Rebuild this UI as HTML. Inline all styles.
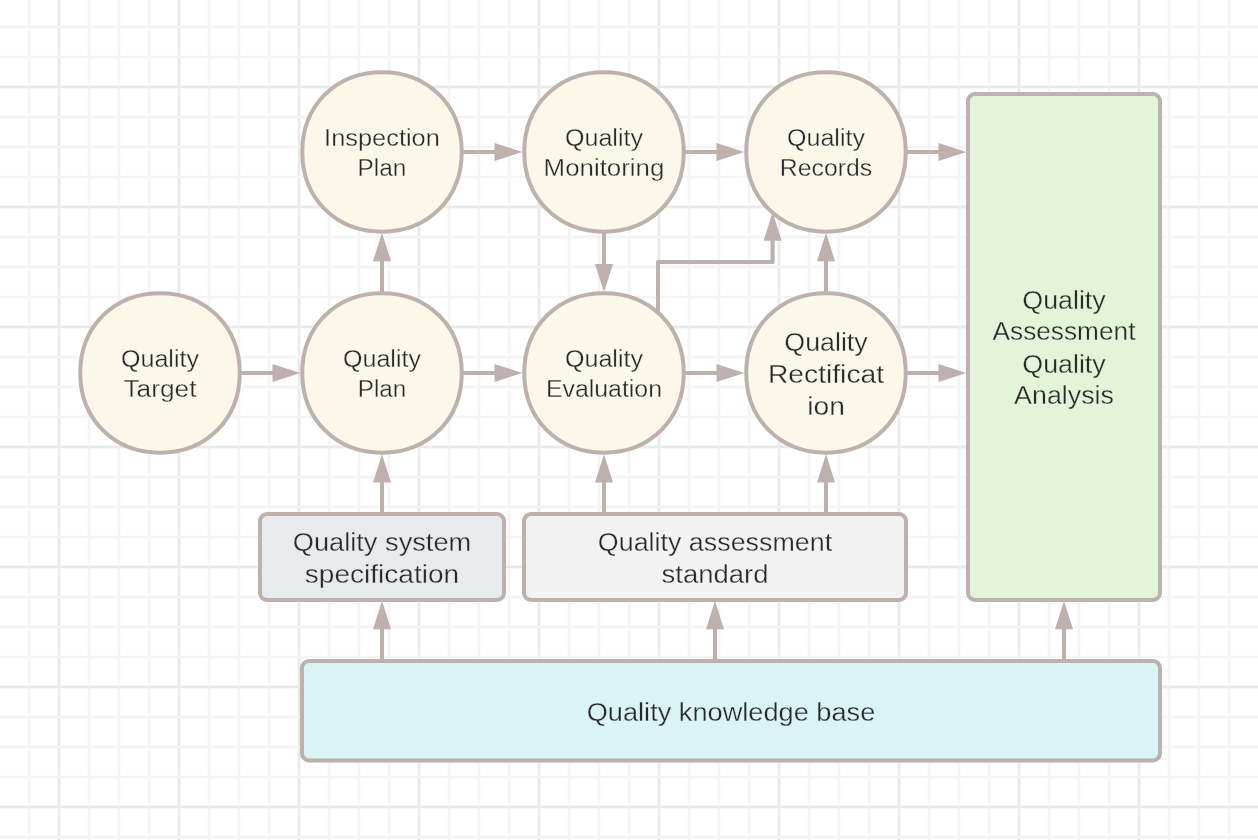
<!DOCTYPE html>
<html><head><meta charset="utf-8"><style>
html,body{margin:0;padding:0;background:#ffffff;width:1258px;height:840px;overflow:hidden}
svg{display:block;will-change:transform}
text{font-family:"Liberation Sans",sans-serif;fill:#282828}
</style></head><body>
<svg width="1258" height="840" viewBox="0 0 1258 840">
<g shape-rendering="crispEdges"><rect x="27" y="0" width="1" height="840" fill="#fcfcfc"/><rect x="30" y="0" width="1" height="840" fill="#fcfcfc"/><rect x="60" y="0" width="1" height="840" fill="#f7f7f7"/><rect x="57" y="0" width="1" height="840" fill="#f8f8f8"/><rect x="87" y="0" width="1" height="840" fill="#fcfcfc"/><rect x="90" y="0" width="1" height="840" fill="#fcfcfc"/><rect x="117" y="0" width="1" height="840" fill="#fcfcfc"/><rect x="120" y="0" width="1" height="840" fill="#fcfcfc"/><rect x="147" y="0" width="1" height="840" fill="#fcfcfc"/><rect x="150" y="0" width="1" height="840" fill="#fcfcfc"/><rect x="180" y="0" width="1" height="840" fill="#f7f7f7"/><rect x="177" y="0" width="1" height="840" fill="#f8f8f8"/><rect x="207" y="0" width="1" height="840" fill="#fcfcfc"/><rect x="210" y="0" width="1" height="840" fill="#fcfcfc"/><rect x="237" y="0" width="1" height="840" fill="#fcfcfc"/><rect x="240" y="0" width="1" height="840" fill="#fcfcfc"/><rect x="267" y="0" width="1" height="840" fill="#fcfcfc"/><rect x="270" y="0" width="1" height="840" fill="#fcfcfc"/><rect x="300" y="0" width="1" height="840" fill="#f7f7f7"/><rect x="297" y="0" width="1" height="840" fill="#f8f8f8"/><rect x="327" y="0" width="1" height="840" fill="#fcfcfc"/><rect x="330" y="0" width="1" height="840" fill="#fcfcfc"/><rect x="357" y="0" width="1" height="840" fill="#fcfcfc"/><rect x="360" y="0" width="1" height="840" fill="#fcfcfc"/><rect x="387" y="0" width="1" height="840" fill="#fcfcfc"/><rect x="390" y="0" width="1" height="840" fill="#fcfcfc"/><rect x="420" y="0" width="1" height="840" fill="#f7f7f7"/><rect x="417" y="0" width="1" height="840" fill="#f8f8f8"/><rect x="447" y="0" width="1" height="840" fill="#fcfcfc"/><rect x="450" y="0" width="1" height="840" fill="#fcfcfc"/><rect x="477" y="0" width="1" height="840" fill="#fcfcfc"/><rect x="480" y="0" width="1" height="840" fill="#fcfcfc"/><rect x="507" y="0" width="1" height="840" fill="#fcfcfc"/><rect x="510" y="0" width="1" height="840" fill="#fcfcfc"/><rect x="540" y="0" width="1" height="840" fill="#f7f7f7"/><rect x="537" y="0" width="1" height="840" fill="#f8f8f8"/><rect x="567" y="0" width="1" height="840" fill="#fcfcfc"/><rect x="570" y="0" width="1" height="840" fill="#fcfcfc"/><rect x="597" y="0" width="1" height="840" fill="#fcfcfc"/><rect x="600" y="0" width="1" height="840" fill="#fcfcfc"/><rect x="627" y="0" width="1" height="840" fill="#fcfcfc"/><rect x="630" y="0" width="1" height="840" fill="#fcfcfc"/><rect x="660" y="0" width="1" height="840" fill="#f7f7f7"/><rect x="657" y="0" width="1" height="840" fill="#f8f8f8"/><rect x="687" y="0" width="1" height="840" fill="#fcfcfc"/><rect x="690" y="0" width="1" height="840" fill="#fcfcfc"/><rect x="717" y="0" width="1" height="840" fill="#fcfcfc"/><rect x="720" y="0" width="1" height="840" fill="#fcfcfc"/><rect x="747" y="0" width="1" height="840" fill="#fcfcfc"/><rect x="750" y="0" width="1" height="840" fill="#fcfcfc"/><rect x="780" y="0" width="1" height="840" fill="#f7f7f7"/><rect x="777" y="0" width="1" height="840" fill="#f8f8f8"/><rect x="807" y="0" width="1" height="840" fill="#fcfcfc"/><rect x="810" y="0" width="1" height="840" fill="#fcfcfc"/><rect x="837" y="0" width="1" height="840" fill="#fcfcfc"/><rect x="840" y="0" width="1" height="840" fill="#fcfcfc"/><rect x="867" y="0" width="1" height="840" fill="#fcfcfc"/><rect x="870" y="0" width="1" height="840" fill="#fcfcfc"/><rect x="900" y="0" width="1" height="840" fill="#f7f7f7"/><rect x="897" y="0" width="1" height="840" fill="#f8f8f8"/><rect x="927" y="0" width="1" height="840" fill="#fcfcfc"/><rect x="930" y="0" width="1" height="840" fill="#fcfcfc"/><rect x="957" y="0" width="1" height="840" fill="#fcfcfc"/><rect x="960" y="0" width="1" height="840" fill="#fcfcfc"/><rect x="987" y="0" width="1" height="840" fill="#fcfcfc"/><rect x="990" y="0" width="1" height="840" fill="#fcfcfc"/><rect x="1020" y="0" width="1" height="840" fill="#f7f7f7"/><rect x="1017" y="0" width="1" height="840" fill="#f8f8f8"/><rect x="1047" y="0" width="1" height="840" fill="#fcfcfc"/><rect x="1050" y="0" width="1" height="840" fill="#fcfcfc"/><rect x="1077" y="0" width="1" height="840" fill="#fcfcfc"/><rect x="1080" y="0" width="1" height="840" fill="#fcfcfc"/><rect x="1107" y="0" width="1" height="840" fill="#fcfcfc"/><rect x="1110" y="0" width="1" height="840" fill="#fcfcfc"/><rect x="1140" y="0" width="1" height="840" fill="#f7f7f7"/><rect x="1137" y="0" width="1" height="840" fill="#f8f8f8"/><rect x="1167" y="0" width="1" height="840" fill="#fcfcfc"/><rect x="1170" y="0" width="1" height="840" fill="#fcfcfc"/><rect x="1197" y="0" width="1" height="840" fill="#fcfcfc"/><rect x="1200" y="0" width="1" height="840" fill="#fcfcfc"/><rect x="1227" y="0" width="1" height="840" fill="#fcfcfc"/><rect x="1230" y="0" width="1" height="840" fill="#fcfcfc"/><rect x="0" y="25" width="1258" height="1" fill="#fcfcfc"/><rect x="0" y="28" width="1258" height="1" fill="#fcfcfc"/><rect x="0" y="55" width="1258" height="1" fill="#fcfcfc"/><rect x="0" y="58" width="1258" height="1" fill="#fcfcfc"/><rect x="0" y="88" width="1258" height="1" fill="#f8f8f8"/><rect x="0" y="85" width="1258" height="1" fill="#f5f5f5"/><rect x="0" y="115" width="1258" height="1" fill="#fcfcfc"/><rect x="0" y="118" width="1258" height="1" fill="#fcfcfc"/><rect x="0" y="145" width="1258" height="1" fill="#fcfcfc"/><rect x="0" y="148" width="1258" height="1" fill="#fcfcfc"/><rect x="0" y="175" width="1258" height="1" fill="#fcfcfc"/><rect x="0" y="178" width="1258" height="1" fill="#fcfcfc"/><rect x="0" y="208" width="1258" height="1" fill="#f8f8f8"/><rect x="0" y="205" width="1258" height="1" fill="#f5f5f5"/><rect x="0" y="235" width="1258" height="1" fill="#fcfcfc"/><rect x="0" y="238" width="1258" height="1" fill="#fcfcfc"/><rect x="0" y="265" width="1258" height="1" fill="#fcfcfc"/><rect x="0" y="268" width="1258" height="1" fill="#fcfcfc"/><rect x="0" y="295" width="1258" height="1" fill="#fcfcfc"/><rect x="0" y="298" width="1258" height="1" fill="#fcfcfc"/><rect x="0" y="328" width="1258" height="1" fill="#f8f8f8"/><rect x="0" y="325" width="1258" height="1" fill="#f5f5f5"/><rect x="0" y="355" width="1258" height="1" fill="#fcfcfc"/><rect x="0" y="358" width="1258" height="1" fill="#fcfcfc"/><rect x="0" y="385" width="1258" height="1" fill="#fcfcfc"/><rect x="0" y="388" width="1258" height="1" fill="#fcfcfc"/><rect x="0" y="415" width="1258" height="1" fill="#fcfcfc"/><rect x="0" y="418" width="1258" height="1" fill="#fcfcfc"/><rect x="0" y="448" width="1258" height="1" fill="#f8f8f8"/><rect x="0" y="445" width="1258" height="1" fill="#f5f5f5"/><rect x="0" y="475" width="1258" height="1" fill="#fcfcfc"/><rect x="0" y="478" width="1258" height="1" fill="#fcfcfc"/><rect x="0" y="505" width="1258" height="1" fill="#fcfcfc"/><rect x="0" y="508" width="1258" height="1" fill="#fcfcfc"/><rect x="0" y="535" width="1258" height="1" fill="#fcfcfc"/><rect x="0" y="538" width="1258" height="1" fill="#fcfcfc"/><rect x="0" y="568" width="1258" height="1" fill="#f8f8f8"/><rect x="0" y="565" width="1258" height="1" fill="#f5f5f5"/><rect x="0" y="595" width="1258" height="1" fill="#fcfcfc"/><rect x="0" y="598" width="1258" height="1" fill="#fcfcfc"/><rect x="0" y="625" width="1258" height="1" fill="#fcfcfc"/><rect x="0" y="628" width="1258" height="1" fill="#fcfcfc"/><rect x="0" y="655" width="1258" height="1" fill="#fcfcfc"/><rect x="0" y="658" width="1258" height="1" fill="#fcfcfc"/><rect x="0" y="688" width="1258" height="1" fill="#f8f8f8"/><rect x="0" y="685" width="1258" height="1" fill="#f5f5f5"/><rect x="0" y="715" width="1258" height="1" fill="#fcfcfc"/><rect x="0" y="718" width="1258" height="1" fill="#fcfcfc"/><rect x="0" y="745" width="1258" height="1" fill="#fcfcfc"/><rect x="0" y="748" width="1258" height="1" fill="#fcfcfc"/><rect x="0" y="775" width="1258" height="1" fill="#fcfcfc"/><rect x="0" y="778" width="1258" height="1" fill="#fcfcfc"/><rect x="0" y="808" width="1258" height="1" fill="#f8f8f8"/><rect x="0" y="805" width="1258" height="1" fill="#f5f5f5"/><rect x="0" y="835" width="1258" height="1" fill="#fcfcfc"/><rect x="0" y="838" width="1258" height="1" fill="#fcfcfc"/><rect x="28" y="0" width="2" height="840" fill="#f4f4f4"/><rect x="58" y="0" width="2" height="840" fill="#eaeaea"/><rect x="88" y="0" width="2" height="840" fill="#f4f4f4"/><rect x="118" y="0" width="2" height="840" fill="#f4f4f4"/><rect x="148" y="0" width="2" height="840" fill="#f4f4f4"/><rect x="178" y="0" width="2" height="840" fill="#eaeaea"/><rect x="208" y="0" width="2" height="840" fill="#f4f4f4"/><rect x="238" y="0" width="2" height="840" fill="#f4f4f4"/><rect x="268" y="0" width="2" height="840" fill="#f4f4f4"/><rect x="298" y="0" width="2" height="840" fill="#eaeaea"/><rect x="328" y="0" width="2" height="840" fill="#f4f4f4"/><rect x="358" y="0" width="2" height="840" fill="#f4f4f4"/><rect x="388" y="0" width="2" height="840" fill="#f4f4f4"/><rect x="418" y="0" width="2" height="840" fill="#eaeaea"/><rect x="448" y="0" width="2" height="840" fill="#f4f4f4"/><rect x="478" y="0" width="2" height="840" fill="#f4f4f4"/><rect x="508" y="0" width="2" height="840" fill="#f4f4f4"/><rect x="538" y="0" width="2" height="840" fill="#eaeaea"/><rect x="568" y="0" width="2" height="840" fill="#f4f4f4"/><rect x="598" y="0" width="2" height="840" fill="#f4f4f4"/><rect x="628" y="0" width="2" height="840" fill="#f4f4f4"/><rect x="658" y="0" width="2" height="840" fill="#eaeaea"/><rect x="688" y="0" width="2" height="840" fill="#f4f4f4"/><rect x="718" y="0" width="2" height="840" fill="#f4f4f4"/><rect x="748" y="0" width="2" height="840" fill="#f4f4f4"/><rect x="778" y="0" width="2" height="840" fill="#eaeaea"/><rect x="808" y="0" width="2" height="840" fill="#f4f4f4"/><rect x="838" y="0" width="2" height="840" fill="#f4f4f4"/><rect x="868" y="0" width="2" height="840" fill="#f4f4f4"/><rect x="898" y="0" width="2" height="840" fill="#eaeaea"/><rect x="928" y="0" width="2" height="840" fill="#f4f4f4"/><rect x="958" y="0" width="2" height="840" fill="#f4f4f4"/><rect x="988" y="0" width="2" height="840" fill="#f4f4f4"/><rect x="1018" y="0" width="2" height="840" fill="#eaeaea"/><rect x="1048" y="0" width="2" height="840" fill="#f4f4f4"/><rect x="1078" y="0" width="2" height="840" fill="#f4f4f4"/><rect x="1108" y="0" width="2" height="840" fill="#f4f4f4"/><rect x="1138" y="0" width="2" height="840" fill="#eaeaea"/><rect x="1168" y="0" width="2" height="840" fill="#f4f4f4"/><rect x="1198" y="0" width="2" height="840" fill="#f4f4f4"/><rect x="1228" y="0" width="2" height="840" fill="#f4f4f4"/><rect x="0" y="26" width="1258" height="2" fill="#f4f4f4"/><rect x="0" y="56" width="1258" height="2" fill="#f4f4f4"/><rect x="0" y="86" width="1258" height="2" fill="#eaeaea"/><rect x="0" y="116" width="1258" height="2" fill="#f4f4f4"/><rect x="0" y="146" width="1258" height="2" fill="#f4f4f4"/><rect x="0" y="176" width="1258" height="2" fill="#f4f4f4"/><rect x="0" y="206" width="1258" height="2" fill="#eaeaea"/><rect x="0" y="236" width="1258" height="2" fill="#f4f4f4"/><rect x="0" y="266" width="1258" height="2" fill="#f4f4f4"/><rect x="0" y="296" width="1258" height="2" fill="#f4f4f4"/><rect x="0" y="326" width="1258" height="2" fill="#eaeaea"/><rect x="0" y="356" width="1258" height="2" fill="#f4f4f4"/><rect x="0" y="386" width="1258" height="2" fill="#f4f4f4"/><rect x="0" y="416" width="1258" height="2" fill="#f4f4f4"/><rect x="0" y="446" width="1258" height="2" fill="#eaeaea"/><rect x="0" y="476" width="1258" height="2" fill="#f4f4f4"/><rect x="0" y="506" width="1258" height="2" fill="#f4f4f4"/><rect x="0" y="536" width="1258" height="2" fill="#f4f4f4"/><rect x="0" y="566" width="1258" height="2" fill="#eaeaea"/><rect x="0" y="596" width="1258" height="2" fill="#f4f4f4"/><rect x="0" y="626" width="1258" height="2" fill="#f4f4f4"/><rect x="0" y="656" width="1258" height="2" fill="#f4f4f4"/><rect x="0" y="686" width="1258" height="2" fill="#eaeaea"/><rect x="0" y="716" width="1258" height="2" fill="#f4f4f4"/><rect x="0" y="746" width="1258" height="2" fill="#f4f4f4"/><rect x="0" y="776" width="1258" height="2" fill="#f4f4f4"/><rect x="0" y="806" width="1258" height="2" fill="#eaeaea"/><rect x="0" y="836" width="1258" height="2" fill="#f4f4f4"/></g>
<rect x="968" y="94" width="192" height="506" rx="7" ry="7" fill="#e3f5d9" stroke="#bdb0ad" stroke-width="4"/>
<rect x="260" y="514" width="244" height="86" rx="7" ry="7" fill="#e8ebee" stroke="#bdb0ad" stroke-width="4"/>
<rect x="524" y="514" width="382" height="86" rx="7" ry="7" fill="#f2f2f2" stroke="#bdb0ad" stroke-width="4"/>
<rect x="302" y="661" width="858" height="99.5" rx="7" ry="7" fill="#daf3f4" stroke="#bdb0ad" stroke-width="4"/>
<path d="M461.75,151.90 C461.75,198.16 428.25,231.65 382.00,231.65 C335.75,231.65 302.25,198.16 302.25,151.90 C302.25,105.65 335.75,72.15 382.00,72.15 C428.25,72.15 461.75,105.65 461.75,151.90Z" fill="#fbf8e9" stroke="#bdb0ad" stroke-width="4"/>
<path d="M683.75,151.90 C683.75,198.16 650.25,231.65 604.00,231.65 C557.75,231.65 524.25,198.16 524.25,151.90 C524.25,105.65 557.75,72.15 604.00,72.15 C650.25,72.15 683.75,105.65 683.75,151.90Z" fill="#fbf8e9" stroke="#bdb0ad" stroke-width="4"/>
<path d="M905.75,151.90 C905.75,198.16 872.25,231.65 826.00,231.65 C779.75,231.65 746.25,198.16 746.25,151.90 C746.25,105.65 779.75,72.15 826.00,72.15 C872.25,72.15 905.75,105.65 905.75,151.90Z" fill="#fbf8e9" stroke="#bdb0ad" stroke-width="4"/>
<path d="M239.75,372.90 C239.75,419.15 206.25,452.65 160.00,452.65 C113.75,452.65 80.25,419.15 80.25,372.90 C80.25,326.64 113.75,293.15 160.00,293.15 C206.25,293.15 239.75,326.64 239.75,372.90Z" fill="#fbf8e9" stroke="#bdb0ad" stroke-width="4"/>
<path d="M461.75,372.90 C461.75,419.15 428.25,452.65 382.00,452.65 C335.75,452.65 302.25,419.15 302.25,372.90 C302.25,326.64 335.75,293.15 382.00,293.15 C428.25,293.15 461.75,326.64 461.75,372.90Z" fill="#fbf8e9" stroke="#bdb0ad" stroke-width="4"/>
<path d="M683.75,372.90 C683.75,419.15 650.25,452.65 604.00,452.65 C557.75,452.65 524.25,419.15 524.25,372.90 C524.25,326.64 557.75,293.15 604.00,293.15 C650.25,293.15 683.75,326.64 683.75,372.90Z" fill="#fbf8e9" stroke="#bdb0ad" stroke-width="4"/>
<path d="M905.75,372.90 C905.75,419.15 872.25,452.65 826.00,452.65 C779.75,452.65 746.25,419.15 746.25,372.90 C746.25,326.64 779.75,293.15 826.00,293.15 C872.25,293.15 905.75,326.64 905.75,372.90Z" fill="#fbf8e9" stroke="#bdb0ad" stroke-width="4"/>
<line x1="240" y1="372.9" x2="273.5" y2="372.9" stroke="#bdb0ad" stroke-width="4"/>
<polygon points="272.5,363.9 300.3,372.9 272.5,381.9" fill="#bdb0ad"/>
<line x1="462" y1="372.9" x2="495.49999999999994" y2="372.9" stroke="#bdb0ad" stroke-width="4"/>
<polygon points="494.49999999999994,363.9 522.3,372.9 494.49999999999994,381.9" fill="#bdb0ad"/>
<line x1="684" y1="372.9" x2="717.5" y2="372.9" stroke="#bdb0ad" stroke-width="4"/>
<polygon points="716.5,363.9 744.3,372.9 716.5,381.9" fill="#bdb0ad"/>
<line x1="906" y1="372.9" x2="939.5" y2="372.9" stroke="#bdb0ad" stroke-width="4"/>
<polygon points="938.5,363.9 966.3,372.9 938.5,381.9" fill="#bdb0ad"/>
<line x1="462" y1="151.9" x2="495.49999999999994" y2="151.9" stroke="#bdb0ad" stroke-width="4"/>
<polygon points="494.49999999999994,142.9 522.3,151.9 494.49999999999994,160.9" fill="#bdb0ad"/>
<line x1="684" y1="151.9" x2="717.5" y2="151.9" stroke="#bdb0ad" stroke-width="4"/>
<polygon points="716.5,142.9 744.3,151.9 716.5,160.9" fill="#bdb0ad"/>
<line x1="906" y1="151.9" x2="939.5" y2="151.9" stroke="#bdb0ad" stroke-width="4"/>
<polygon points="938.5,142.9 966.3,151.9 938.5,160.9" fill="#bdb0ad"/>
<line x1="382" y1="293" x2="382" y2="260.2" stroke="#bdb0ad" stroke-width="4"/>
<polygon points="373,261.2 382,232.8 391,261.2" fill="#bdb0ad"/>
<line x1="604" y1="232" x2="604" y2="264.90000000000003" stroke="#bdb0ad" stroke-width="4"/>
<polygon points="595,263.90000000000003 604,292.3 613,263.90000000000003" fill="#bdb0ad"/>
<line x1="826" y1="293" x2="826" y2="260.2" stroke="#bdb0ad" stroke-width="4"/>
<polygon points="817,261.2 826,232.8 835,261.2" fill="#bdb0ad"/>
<line x1="382" y1="514" x2="382" y2="481.59999999999997" stroke="#bdb0ad" stroke-width="4"/>
<polygon points="373,482.59999999999997 382,454.2 391,482.59999999999997" fill="#bdb0ad"/>
<line x1="604" y1="514" x2="604" y2="481.59999999999997" stroke="#bdb0ad" stroke-width="4"/>
<polygon points="595,482.59999999999997 604,454.2 613,482.59999999999997" fill="#bdb0ad"/>
<line x1="826" y1="514" x2="826" y2="481.59999999999997" stroke="#bdb0ad" stroke-width="4"/>
<polygon points="817,482.59999999999997 826,454.2 835,482.59999999999997" fill="#bdb0ad"/>
<line x1="382" y1="661" x2="382" y2="628.1999999999999" stroke="#bdb0ad" stroke-width="4"/>
<polygon points="373,629.1999999999999 382,600.8 391,629.1999999999999" fill="#bdb0ad"/>
<line x1="715" y1="661" x2="715" y2="628.1999999999999" stroke="#bdb0ad" stroke-width="4"/>
<polygon points="706,629.1999999999999 715,600.8 724,629.1999999999999" fill="#bdb0ad"/>
<line x1="1064" y1="661" x2="1064" y2="628.1999999999999" stroke="#bdb0ad" stroke-width="4"/>
<polygon points="1055,629.1999999999999 1064,600.8 1073,629.1999999999999" fill="#bdb0ad"/>
<polyline points="658,311 658,262 772.6,262 772.6,239.70000000000002" fill="none" stroke="#bdb0ad" stroke-width="4" stroke-linejoin="round"/>
<polygon points="763.6,240.70000000000002 772.6,212.3 781.6,240.70000000000002" fill="#bdb0ad"/>
<text x="382" y="146" font-size="23" text-anchor="middle" textLength="115.76" lengthAdjust="spacingAndGlyphs" stroke="#fbf8e9" stroke-width="0.3">Inspection</text>
<text x="382" y="175.6" font-size="23" text-anchor="middle" textLength="48.83" lengthAdjust="spacingAndGlyphs" stroke="#fbf8e9" stroke-width="0.3">Plan</text>
<text x="604" y="146" font-size="23" text-anchor="middle" textLength="78.04" lengthAdjust="spacingAndGlyphs" stroke="#fbf8e9" stroke-width="0.3">Quality</text>
<text x="604" y="175.6" font-size="23" text-anchor="middle" textLength="120.81" lengthAdjust="spacingAndGlyphs" stroke="#fbf8e9" stroke-width="0.3">Monitoring</text>
<text x="826" y="146" font-size="23" text-anchor="middle" textLength="77.93" lengthAdjust="spacingAndGlyphs" stroke="#fbf8e9" stroke-width="0.3">Quality</text>
<text x="826" y="175.6" font-size="23" text-anchor="middle" textLength="92.26" lengthAdjust="spacingAndGlyphs" stroke="#fbf8e9" stroke-width="0.3">Records</text>
<text x="160" y="367" font-size="23" text-anchor="middle" textLength="77.93" lengthAdjust="spacingAndGlyphs" stroke="#fbf8e9" stroke-width="0.3">Quality</text>
<text x="160" y="397" font-size="23" text-anchor="middle" textLength="73.07" lengthAdjust="spacingAndGlyphs" stroke="#fbf8e9" stroke-width="0.3">Target</text>
<text x="382" y="367" font-size="23" text-anchor="middle" textLength="77.93" lengthAdjust="spacingAndGlyphs" stroke="#fbf8e9" stroke-width="0.3">Quality</text>
<text x="382" y="397" font-size="23" text-anchor="middle" textLength="48.51" lengthAdjust="spacingAndGlyphs" stroke="#fbf8e9" stroke-width="0.3">Plan</text>
<text x="604" y="367" font-size="23" text-anchor="middle" textLength="78.04" lengthAdjust="spacingAndGlyphs" stroke="#fbf8e9" stroke-width="0.3">Quality</text>
<text x="604" y="397" font-size="23" text-anchor="middle" textLength="116.10" lengthAdjust="spacingAndGlyphs" stroke="#fbf8e9" stroke-width="0.3">Evaluation</text>
<text x="826" y="350.6" font-size="25" text-anchor="middle" textLength="83.37" lengthAdjust="spacingAndGlyphs" stroke="#fbf8e9" stroke-width="0.3">Quality</text>
<text x="826" y="383" font-size="25" text-anchor="middle" textLength="116.18" lengthAdjust="spacingAndGlyphs" stroke="#fbf8e9" stroke-width="0.3">Rectificat</text>
<text x="826" y="414.9" font-size="25" text-anchor="middle" textLength="37.71" lengthAdjust="spacingAndGlyphs" stroke="#fbf8e9" stroke-width="0.3">ion</text>
<text x="1064" y="308.7" font-size="25" text-anchor="middle" textLength="83.37" lengthAdjust="spacingAndGlyphs" stroke="#e3f5d9" stroke-width="0.3">Quality</text>
<text x="1064" y="340.3" font-size="25" text-anchor="middle" textLength="142.98" lengthAdjust="spacingAndGlyphs" stroke="#e3f5d9" stroke-width="0.3">Assessment</text>
<text x="1064" y="372.5" font-size="25" text-anchor="middle" textLength="83.37" lengthAdjust="spacingAndGlyphs" stroke="#e3f5d9" stroke-width="0.3">Quality</text>
<text x="1064" y="404.2" font-size="25" text-anchor="middle" textLength="99.74" lengthAdjust="spacingAndGlyphs" stroke="#e3f5d9" stroke-width="0.3">Analysis</text>
<text x="382" y="551.1" font-size="25" text-anchor="middle" textLength="178.50" lengthAdjust="spacingAndGlyphs" stroke="#e8ebee" stroke-width="0.3">Quality system</text>
<text x="382" y="583.1" font-size="25" text-anchor="middle" textLength="154.29" lengthAdjust="spacingAndGlyphs" stroke="#e8ebee" stroke-width="0.3">specification</text>
<text x="715" y="550.8" font-size="25" text-anchor="middle" textLength="234.22" lengthAdjust="spacingAndGlyphs" stroke="#f2f2f2" stroke-width="0.3">Quality assessment</text>
<text x="715" y="583" font-size="25" text-anchor="middle" textLength="106.92" lengthAdjust="spacingAndGlyphs" stroke="#f2f2f2" stroke-width="0.3">standard</text>
<text x="731" y="720.8" font-size="25" text-anchor="middle" textLength="288.57" lengthAdjust="spacingAndGlyphs" stroke="#daf3f4" stroke-width="0.3">Quality knowledge base</text>
</svg>
</body></html>
